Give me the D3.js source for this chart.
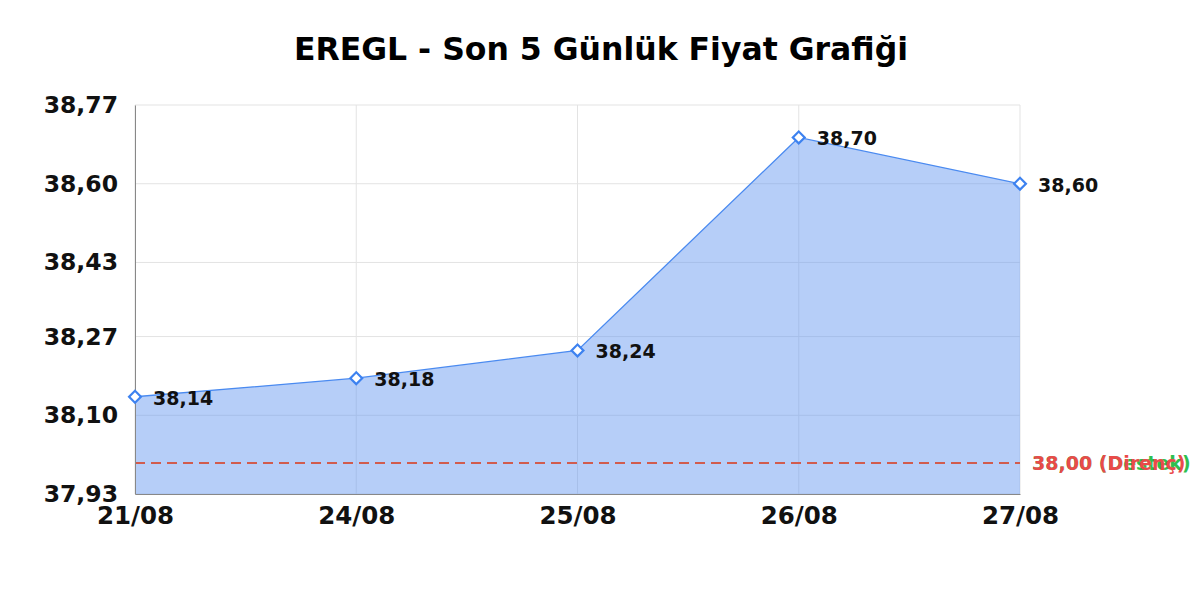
<!DOCTYPE html>
<html>
<head>
<meta charset="utf-8">
<style>
  body { margin: 0; background: #fff; }
  svg text { font-family: "DejaVu Sans", sans-serif; font-weight: bold; }
</style>
</head>
<body>
<div id="chart"></div>
<script src="https://d3js.org/d3.v7.min.js"></script>
<script>
const days = ['21/08', '24/08', '25/08', '26/08', '27/08'];
const prices = [38.14, 38.18, 38.24, 38.70, 38.60];
const yTicks = [37.93, 38.10, 38.27, 38.43, 38.60, 38.77];
const levels = [
  { value: 38.00, label: '38,00 (Destek)', color: '#2fbf4f' },
  { value: 38.00, label: '38,00 (Direnç)', color: '#ea4a4a' }
];

const width = 1200, height = 600;
const plotLeft = 135, plotRight = 1020, plotTop = 105, plotBottom = 494;
const fmt = v => v.toFixed(2).replace('.', ',');

const svg = d3.select('#chart').append('svg')
  .attr('width', width)
  .attr('height', height);

const x = d3.scalePoint().domain(days).range([plotLeft, plotRight]);
const y = d3.scaleLinear().domain([37.93, 38.77]).range([plotBottom, plotTop]);

svg.append('text')
  .attr('x', 601).attr('y', 60)
  .attr('text-anchor', 'middle')
  .style('font-size', '31.5px')
  .text('EREGL - Son 5 Günlük Fiyat Grafiği');

// grid
svg.append('g').selectAll('line')
  .data(yTicks).join('line')
  .attr('x1', plotLeft).attr('x2', plotRight)
  .attr('y1', d => y(d)).attr('y2', d => y(d))
  .attr('stroke', '#e3e3e3');

svg.append('g').selectAll('line')
  .data(days).join('line')
  .attr('x1', d => x(d)).attr('x2', d => x(d))
  .attr('y1', plotTop).attr('y2', plotBottom)
  .attr('stroke', '#e3e3e3');

const pts = days.map((d, i) => ({ day: d, price: prices[i] }));

const area = d3.area()
  .x(d => x(d.day))
  .y0(plotBottom)
  .y1(d => y(d.price));

svg.append('path')
  .datum(pts)
  .attr('d', area)
  .attr('fill', 'rgba(100,150,240,0.47)');

const line = d3.line()
  .x(d => x(d.day))
  .y(d => y(d.price));

svg.append('path')
  .datum(pts)
  .attr('d', line)
  .attr('fill', 'none')
  .attr('stroke', '#4a8af0')
  .attr('stroke-width', 1.3);

// support / resistance lines (both at the same level, red drawn last)
levels.forEach(l => {
  svg.append('line')
    .attr('x1', plotLeft).attr('x2', plotRight)
    .attr('y1', Math.round(y(l.value)) + 1).attr('y2', Math.round(y(l.value)) + 1)
    .attr('stroke', l.color)
    .attr('stroke-width', 2)
    .attr('stroke-opacity', 0.85)
    .attr('shape-rendering', 'crispEdges')
    .attr('stroke-dasharray', '10,6');
  svg.append('text')
    .attr('x', plotRight + 12)
    .attr('y', y(l.value) + 8)
    .attr('fill', l.color)
    .style('font-size', '19px')
    .text(l.label);
});

// axes
const yAxis = svg.append('g')
  .attr('transform', `translate(${plotLeft},0)`)
  .call(d3.axisLeft(y).tickValues(yTicks).tickSize(0).tickPadding(17).tickFormat(fmt));
yAxis.select('.domain').attr('stroke', '#888');
yAxis.selectAll('text').style('font-size', '23.5px').attr('fill', '#111');

const xAxis = svg.append('g')
  .attr('transform', `translate(0,${plotBottom})`)
  .call(d3.axisBottom(x).tickSize(0).tickPadding(13));
xAxis.select('.domain').attr('stroke', '#888');
xAxis.selectAll('text').style('font-size', '24.5px').attr('fill', '#111');

// markers
svg.append('g').selectAll('path')
  .data(pts).join('path')
  .attr('transform', d => `translate(${x(d.day)},${y(d.price)}) rotate(45)`)
  .attr('d', 'M-4.2,-4.2H4.2V4.2H-4.2Z')
  .attr('fill', '#fff')
  .attr('stroke', '#3d82f0')
  .attr('stroke-width', 2.2);

svg.append('g').selectAll('text')
  .data(pts).join('text')
  .attr('x', d => x(d.day) + 18)
  .attr('y', d => y(d.price) + 8)
  .style('font-size', '19px')
  .attr('fill', '#111')
  .text(d => fmt(d.price));
</script>
</body>
</html>
